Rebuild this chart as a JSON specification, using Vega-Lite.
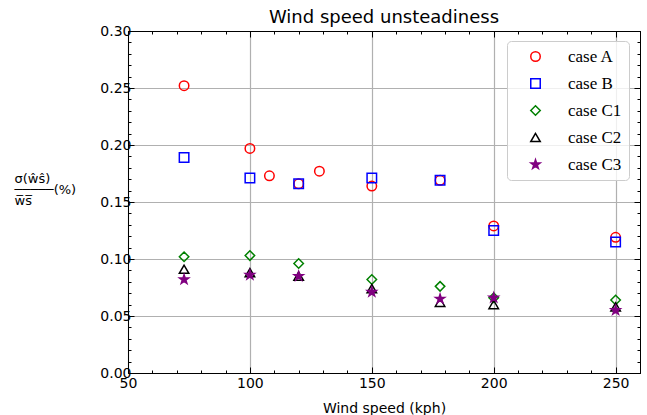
{
  "$schema": "https://vega.github.io/schema/vega-lite/v6.json",
  "width": 512,
  "height": 342,
  "autosize": {"type": "none"},
  "padding": {"left": 128, "top": 31, "right": 7, "bottom": 42},
  "background": "white",
  "title": {"text": "Wind speed unsteadiness", "font": "DejaVu Sans", "fontSize": 18, "fontWeight": "normal", "color": "black", "offset": 6, "dy": 9},
  "config": {
    "view": {"stroke": "black", "strokeWidth": 1},
    "axis": {"domainColor": "black", "tickColor": "black", "labelColor": "black", "titleColor": "black", "labelFont": "DejaVu Sans", "titleFont": "DejaVu Sans", "labelFontSize": 14, "titleFontSize": 14, "titleFontWeight": "normal", "gridColor": "#b0b0b0", "gridWidth": 1.2}
  },
  "data": {"values": [
    {"x": 73, "y": 0.252, "case": "case A"},
    {"x": 100, "y": 0.197, "case": "case A"},
    {"x": 108, "y": 0.173, "case": "case A"},
    {"x": 120, "y": 0.166, "case": "case A"},
    {"x": 128.5, "y": 0.177, "case": "case A"},
    {"x": 150, "y": 0.164, "case": "case A"},
    {"x": 178, "y": 0.169, "case": "case A"},
    {"x": 200, "y": 0.129, "case": "case A"},
    {"x": 250, "y": 0.119, "case": "case A"},
    {"x": 73, "y": 0.189, "case": "case B"},
    {"x": 100, "y": 0.171, "case": "case B"},
    {"x": 120, "y": 0.166, "case": "case B"},
    {"x": 150, "y": 0.171, "case": "case B"},
    {"x": 178, "y": 0.169, "case": "case B"},
    {"x": 200, "y": 0.125, "case": "case B"},
    {"x": 250, "y": 0.115, "case": "case B"},
    {"x": 73, "y": 0.102, "case": "case C1"},
    {"x": 100, "y": 0.103, "case": "case C1"},
    {"x": 120, "y": 0.096, "case": "case C1"},
    {"x": 150, "y": 0.082, "case": "case C1"},
    {"x": 178, "y": 0.076, "case": "case C1"},
    {"x": 200, "y": 0.066, "case": "case C1"},
    {"x": 250, "y": 0.064, "case": "case C1"},
    {"x": 73, "y": 0.091, "case": "case C2"},
    {"x": 100, "y": 0.088, "case": "case C2"},
    {"x": 120, "y": 0.085, "case": "case C2"},
    {"x": 150, "y": 0.074, "case": "case C2"},
    {"x": 178, "y": 0.062, "case": "case C2"},
    {"x": 200, "y": 0.060, "case": "case C2"},
    {"x": 250, "y": 0.058, "case": "case C2"},
    {"x": 73, "y": 0.082, "case": "case C3"},
    {"x": 100, "y": 0.086, "case": "case C3"},
    {"x": 120, "y": 0.085, "case": "case C3"},
    {"x": 150, "y": 0.071, "case": "case C3"},
    {"x": 178, "y": 0.065, "case": "case C3"},
    {"x": 200, "y": 0.066, "case": "case C3"},
    {"x": 250, "y": 0.055, "case": "case C3"}
  ]},
  "resolve": {"axis": {"x": "independent", "y": "independent"}},
  "layer": [
    {
      "mark": {"type": "point", "size": 90, "strokeWidth": 1.5, "opacity": 1},
      "encoding": {
        "x": {"field": "x", "type": "quantitative", "scale": {"domain": [50, 260], "nice": false, "zero": false},
          "axis": {"orient": "bottom", "title": "Wind speed (kph)", "titlePadding": 11,
            "values": [50,60,70,80,90,100,110,120,130,140,150,160,170,180,190,200,210,220,230,240,250,260],
            "labelExpr": "datum.value % 50 == 0 ? datum.label : ''", "labelFlush": false, "labelPadding": 9,
            "tickSize": {"condition": {"test": "datum.value % 50 == 0", "value": -6}, "value": -3},
            "grid": true, "gridOpacity": {"condition": {"test": "datum.value % 50 == 0", "value": 1}, "value": 0}}},
        "y": {"field": "y", "type": "quantitative", "scale": {"domain": [0, 0.3], "nice": false, "zero": false},
          "axis": {"orient": "left", "format": ".2f",
            "values": [0,0.01,0.02,0.03,0.04,0.05,0.06,0.07,0.08,0.09,0.1,0.11,0.12,0.13,0.14,0.15,0.16,0.17,0.18,0.19,0.2,0.21,0.22,0.23,0.24,0.25,0.26,0.27,0.28,0.29,0.3],
            "labelExpr": "round(datum.value*100) % 5 == 0 ? datum.label : ''", "labelFlush": false, "labelPadding": 3,
            "tickSize": {"condition": {"test": "round(datum.value*100) % 5 == 0", "value": -6}, "value": -3},
            "grid": true, "gridOpacity": {"condition": {"test": "round(datum.value*100) % 5 == 0", "value": 1}, "value": 0},
            "title": ["σ(ŵŝ)", "─────(%)", "  w̅s̅"], "titleAngle": 0, "titleAlign": "left", "titleBaseline": "middle", "titleFontSize": 13, "titleLineHeight": 11, "titleX": -114, "titleY": 147}},
        "stroke": {"field": "case", "type": "nominal", "scale": {"domain": ["case A","case B","case C1","case C2","case C3"], "range": ["#ff0000","#0000ff","#008000","#000000","#800080"]}, "legend": {"title": null}},
        "fill": {"field": "case", "type": "nominal", "scale": {"domain": ["case A","case B","case C1","case C2","case C3"], "range": ["transparent","transparent","transparent","transparent","#800080"]}, "legend": {"title": null}},
        "shape": {"field": "case", "type": "nominal", "scale": {"domain": ["case A","case B","case C1","case C2","case C3"], "range": ["circle","square","diamond","triangle-up","M0,-1L0.2245,-0.309L0.951,-0.309L0.363,0.118L0.588,0.809L0,0.382L-0.588,0.809L-0.363,0.118L-0.951,-0.309L-0.2245,-0.309Z"]},
          "legend": {"title": null, "orient": "none", "legendX": 379, "legendY": 10, "padding": 7, "strokeColor": "#cccccc", "fillColor": "rgba(255,255,255,0.8)", "cornerRadius": 4, "labelFont": "Liberation Serif", "labelFontSize": 17, "labelColor": "black", "symbolSize": 90, "symbolStrokeWidth": 1.5, "rowPadding": 9, "labelOffset": 24, "symbolOffset": 13}}
      }
    },
    {
      "mark": {"type": "point", "opacity": 0},
      "encoding": {
        "x": {"field": "x", "type": "quantitative",
          "axis": {"orient": "top", "title": null, "labels": false, "grid": false, "minExtent": 0,
            "values": [50,60,70,80,90,100,110,120,130,140,150,160,170,180,190,200,210,220,230,240,250,260],
            "tickSize": {"condition": {"test": "datum.value % 50 == 0", "value": -6}, "value": -3}}},
        "y": {"field": "y", "type": "quantitative",
          "axis": {"orient": "right", "title": null, "labels": false, "grid": false, "minExtent": 0,
            "values": [0,0.01,0.02,0.03,0.04,0.05,0.06,0.07,0.08,0.09,0.1,0.11,0.12,0.13,0.14,0.15,0.16,0.17,0.18,0.19,0.2,0.21,0.22,0.23,0.24,0.25,0.26,0.27,0.28,0.29,0.3],
            "tickSize": {"condition": {"test": "round(datum.value*100) % 5 == 0", "value": -6}, "value": -3}}}
      }
    }
  ]
}
